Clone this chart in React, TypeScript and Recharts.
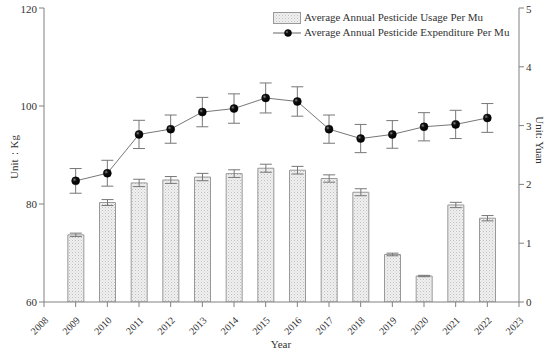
import React from "react";
import { ComposedChart, Bar, Line, XAxis, YAxis, ErrorBar } from "recharts";

const years = [2009, 2010, 2011, 2012, 2013, 2014, 2015, 2016, 2017, 2018, 2019, 2020, 2021, 2022];
const usage = [73.7, 80.3, 84.3, 84.9, 85.5, 86.2, 87.3, 86.9, 85.2, 82.4, 69.7, 65.3, 79.8, 77.1];
const usageErr = [0.35, 0.6, 0.75, 0.7, 0.75, 0.78, 0.82, 0.78, 0.75, 0.71, 0.27, 0.14, 0.54, 0.54];
const expend = [2.06, 2.19, 2.85, 2.94, 3.23, 3.29, 3.47, 3.41, 2.94, 2.78, 2.85, 2.98, 3.02, 3.13];
const expendErr = [0.21, 0.22, 0.24, 0.24, 0.25, 0.25, 0.255, 0.25, 0.24, 0.24, 0.235, 0.24, 0.24, 0.245];
const xTicks = [2008, 2009, 2010, 2011, 2012, 2013, 2014, 2015, 2016, 2017, 2018, 2019, 2020, 2021, 2022, 2023];
const leftTicks = [60, 80, 100, 120];
const rightTicks = [0, 1, 2, 3, 4, 5];
const usageName = "Average Annual Pesticide Usage Per Mu";
const expendName = "Average Annual Pesticide Expenditure Per Mu";

const data = years.map((y, i) => ({
  year: y,
  usage: usage[i],
  usageErr: usageErr[i],
  expend: expend[i],
  expendErr: expendErr[i],
}));

const FONT = "'Liberation Serif', 'DejaVu Serif', serif";
const AXIS = "#808080";
const TEXT = "#333";

const XTick = (props: any) => {
  const { x, y, payload } = props;
  const ax = x + 5;
  const ay = y + 12;
  return (
    <text x={ax} y={ay} transform={`rotate(-45, ${ax}, ${ay})`} textAnchor="end" fontSize={10} fill={TEXT} fontFamily={FONT}>
      {payload.value}
    </text>
  );
};

const YTick = (props: any) => {
  const { x, y, payload, textAnchor } = props;
  return (
    <text x={x} y={y} dy={4} textAnchor={textAnchor} fontSize={11} fill={TEXT} fontFamily={FONT}>
      {payload.value}
    </text>
  );
};

const Dot = (props: any) => {
  const { cx, cy, index } = props;
  if (cx == null || cy == null) return null;
  return <circle key={`d${index}`} cx={cx} cy={cy} r={4} fill="url(#ballGrad)" stroke="#000" strokeWidth={0.5} />;
};

const LeftLabel = () => (
  <text x={14} y={157} transform="rotate(-90, 14, 157)" textAnchor="middle" dominantBaseline="central" fontSize={11} fill={TEXT} fontFamily={FONT}>
    Unit：Kg
  </text>
);

const RightLabel = () => (
  <text x={540} y={140} transform="rotate(90, 540, 140)" textAnchor="middle" dominantBaseline="central" fontSize={11} fill={TEXT} fontFamily={FONT}>
    Unit: Yuan
  </text>
);

const YearLabel = () => (
  <text x={281} y={348} textAnchor="middle" fontSize={11} fill={TEXT} fontFamily={FONT}>
    Year
  </text>
);

export default function App() {
  return (
    <div style={{ position: "absolute", left: 0, top: 0, width: 550, height: 352, background: "#fff" }}>
      <ComposedChart width={550} height={352} data={data} margin={{ top: 8, right: 0, bottom: 0, left: 0 }}>
        <defs>
          <pattern id="dotPattern" width={3} height={3} patternUnits="userSpaceOnUse">
            <rect width={3} height={3} fill="#f0f0f0" />
            <rect x={0} y={0} width={1} height={1} fill="#c0c0c0" />
            <rect x={1.5} y={1.5} width={1} height={1} fill="#d0d0d0" />
          </pattern>
          <radialGradient id="ballGrad" cx="35%" cy="35%" r="65%">
            <stop offset="0%" stopColor="#888" />
            <stop offset="35%" stopColor="#111" />
            <stop offset="100%" stopColor="#000" />
          </radialGradient>
        </defs>
        <XAxis
          dataKey="year"
          type="number"
          domain={[2008, 2023]}
          ticks={xTicks}
          interval={0}
          height={50}
          stroke={AXIS}
          tickSize={5}
          tick={<XTick />}
          allowDataOverflow
          label={<YearLabel />}
        />
        <YAxis
          yAxisId="left"
          domain={[60, 120]}
          ticks={leftTicks}
          width={44}
          stroke={AXIS}
          tickSize={5}
          allowDataOverflow
          tick={<YTick />}
          label={<LeftLabel />}
        />
        <YAxis
          yAxisId="right"
          orientation="right"
          domain={[0, 5]}
          ticks={rightTicks}
          width={31}
          stroke={AXIS}
          tickSize={5}
          tick={<YTick />}
          label={<RightLabel />}
        />
        <Bar yAxisId="left" dataKey="usage" name={usageName} barSize={16} fill="url(#dotPattern)" stroke="#999" strokeWidth={1} isAnimationActive={false}>
          <ErrorBar dataKey="usageErr" width={6} stroke="#777" strokeWidth={1} direction="y" />
        </Bar>
        <Line
          yAxisId="right"
          dataKey="expend"
          name={expendName}
          stroke="#777"
          strokeWidth={1}
          dot={<Dot />}
          activeDot={false}
          isAnimationActive={false}
        >
          <ErrorBar dataKey="expendErr" width={6} stroke="#777" strokeWidth={1} direction="y" />
        </Line>
      </ComposedChart>
      <div style={{ position: "absolute", left: 273, top: 10, fontFamily: FONT, fontSize: 11, color: TEXT, lineHeight: "15px" }}>
        <div style={{ display: "flex", alignItems: "center", whiteSpace: "nowrap" }}>
          <svg width={28} height={12} style={{ marginRight: 3 }}>
            <rect x={0.5} y={0.5} width={27} height={11} fill="url(#dotPattern)" stroke="#999" />
          </svg>
          <span>{usageName}</span>
        </div>
        <div style={{ display: "flex", alignItems: "center", whiteSpace: "nowrap" }}>
          <svg width={28} height={12} style={{ marginRight: 3 }}>
            <line x1={0} y1={6} x2={28} y2={6} stroke="#666" strokeWidth={1} />
            <circle cx={15} cy={6} r={3.5} fill="url(#ballGrad)" stroke="#000" strokeWidth={0.5} />
          </svg>
          <span>{expendName}</span>
        </div>
      </div>
    </div>
  );
}
